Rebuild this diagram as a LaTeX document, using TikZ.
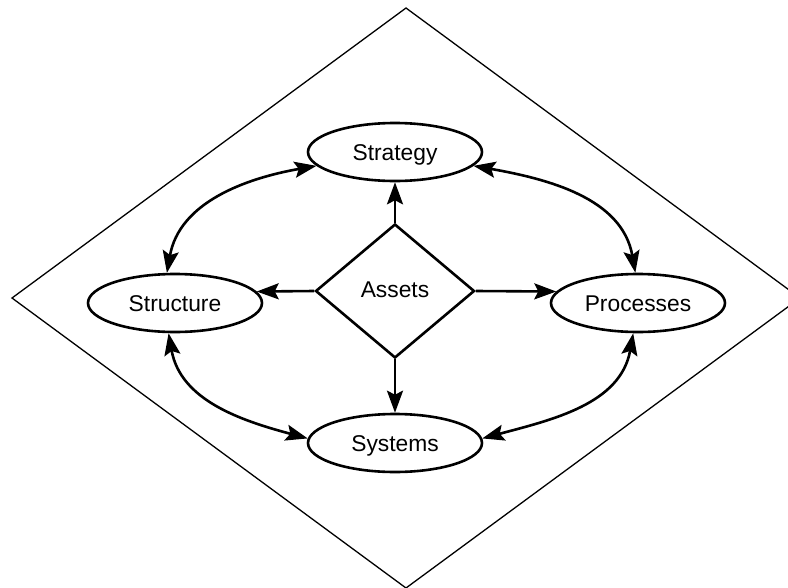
\documentclass[tikz,border=0pt]{standalone}
\usepackage{fontspec}
\setmainfont{Liberation Sans}
\usetikzlibrary{shapes.geometric,arrows.meta}
\begin{document}
\begin{tikzpicture}[x=1pt,y=1pt,
  >={Stealth[length=22pt,width=16pt,inset=4pt]},
  every node/.style={font=\fontsize{22.8}{27}\selectfont},
  oval/.style={ellipse,draw,line width=2.6pt,minimum width=174pt,minimum height=58pt,
    inner sep=0pt,text height=16.6pt,text depth=0pt},
  hub/.style={diamond,draw,line width=2.6pt,minimum width=159pt,minimum height=134pt,
    inner sep=0pt,text height=12pt,text depth=0pt},
  link/.style={line width=2.6pt,->},
  twoway/.style={line width=2.6pt,<->},
  frame/.style={line width=1.3pt}]
\useasboundingbox (0,0) rectangle (788,-587);
\clip (0,0) rectangle (788,-587);

% outer frame
\coordinate (ft) at (406,-8);
\coordinate (fr) at (800,-298);
\coordinate (fb) at (406,-588);
\coordinate (fl) at (12,-298);
\draw[frame] (ft) -- (fr) -- (fb) -- (fl) -- cycle;

% nodes
\node[oval] (strat)  at (395,-152) {Strategy};
\node[oval] (struct) at (175,-303) {Structure};
\node[oval] (proc)   at (638,-303) {Processes};
\node[oval] (sys)    at (395,-443) {Systems};
\node[hub]  (assets) at (395,-291) {Assets};

% straight links from the hub
\draw[link] (assets.north) -- (strat.south);
\draw[link] (assets.south) -- (sys.north);
\draw[link] (assets.west) -- (struct.8);
\draw[link] (assets.east) -- (proc.172);

% curved two-way links around the hub
\draw[twoway] (struct.105) to[out=80,in=190] (strat.190);
\draw[twoway] (proc.95) to[out=100,in=-10] (strat.350);
\draw[twoway] (struct.258) to[out=-80,in=165] (sys.177);
\draw[twoway] (proc.261) to[out=-100,in=15] (sys.3);
\end{tikzpicture}
\end{document}
